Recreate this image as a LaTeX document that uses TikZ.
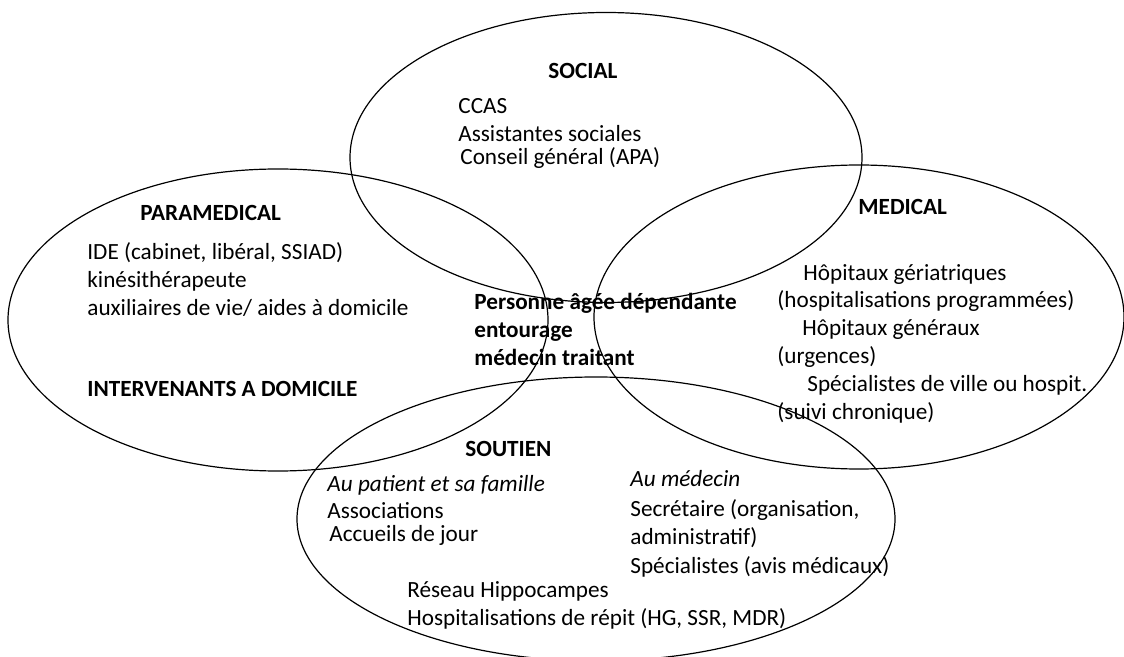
\documentclass[tikz,border=0pt]{standalone}
\usepackage{fontspec}
\setmainfont{Carlito}
\begin{document}
\begin{tikzpicture}[x=0.5pt,y=-0.5pt,
    txt/.style={anchor=base west,inner sep=0pt,font=\fontsize{11.6}{14}\selectfont},
    titre/.style={anchor=base west,inner sep=0pt,font=\fontsize{11.6}{14}\selectfont\bfseries},
    sous/.style={anchor=base west,inner sep=0pt,font=\fontsize{11.6}{14}\selectfont\itshape},
    cercle/.style={draw,line width=0.6pt}]
  %cadre
  	\useasboundingbox (0,0) rectangle (1124,657);
  %ellipses
  	\draw[cercle] (606,157.5) ellipse [x radius=128pt, y radius=72.5pt];
  	\draw[cercle] (278,320) ellipse [x radius=135pt, y radius=75.5pt];
  	\draw[cercle] (859,317) ellipse [x radius=132.5pt, y radius=76pt];
  	\draw[cercle] (596,519) ellipse [x radius=149.5pt, y radius=71pt];

  %social
  	\node[titre] (social) at (548,79) {SOCIAL};
  	\node[txt] (ccas) at (458,114) {CCAS};
  	\node[txt] (assist) at (458,142) {Assistantes sociales};
  	\node[txt] (conseil) at (460,165) {Conseil général (APA)};

  %paramedical
  	\node[titre] (param) at (140,221) {PARAMEDICAL};
  	\node[txt] (ide) at (87,260) {IDE (cabinet, libéral, SSIAD)};
  	\node[txt] (kine) at (87,288) {kinésithérapeute};
  	\node[txt] (aux) at (87,316) {auxiliaires de vie/ aides à domicile};
  	\node[titre] (interv) at (87,397) {INTERVENANTS A DOMICILE};

  %centre
  	\node[titre] (patient) at (474,310) {Personne âgée dépendante};
  	\node[titre] (entour) at (474,338) {entourage};
  	\node[titre] (traitant) at (474,366) {médecin traitant};

  %medical
  	\node[titre] (medical) at (858,215) {MEDICAL};
  	\node[txt] (hopger) at (803,281) {Hôpitaux gériatriques};
  	\node[txt] (hospprog) at (777,308) {(hospitalisations programmées)};
  	\node[txt] (hopgen) at (802,336) {Hôpitaux généraux};
  	\node[txt] (urg) at (777,364) {(urgences)};
  	\node[txt] (spec) at (807,392) {Spécialistes de ville ou hospit.};
  	\node[txt] (suivi) at (777,420) {(suivi chronique)};

  %soutien
  	\node[titre] (soutien) at (465,457) {SOUTIEN};
  	\node[sous] (aupat) at (327,491) {Au patient et sa famille};
  	\node[txt] (assoc) at (327,518) {Associations};
  	\node[txt] (accueil) at (329,541) {Accueils de jour};
  	\node[sous] (aumed) at (630,487) {Au médecin};
  	\node[txt] (secr) at (630,516) {Secrétaire (organisation,};
  	\node[txt] (admin) at (630,544) {administratif)};
  	\node[txt] (specav) at (630,573) {Spécialistes (avis médicaux)};
  	\node[txt] (reseau) at (407,597) {Réseau Hippocampes};
  	\node[txt] (repit) at (407,625) {Hospitalisations de répit (HG, SSR, MDR)};
\end{tikzpicture}
\end{document}
